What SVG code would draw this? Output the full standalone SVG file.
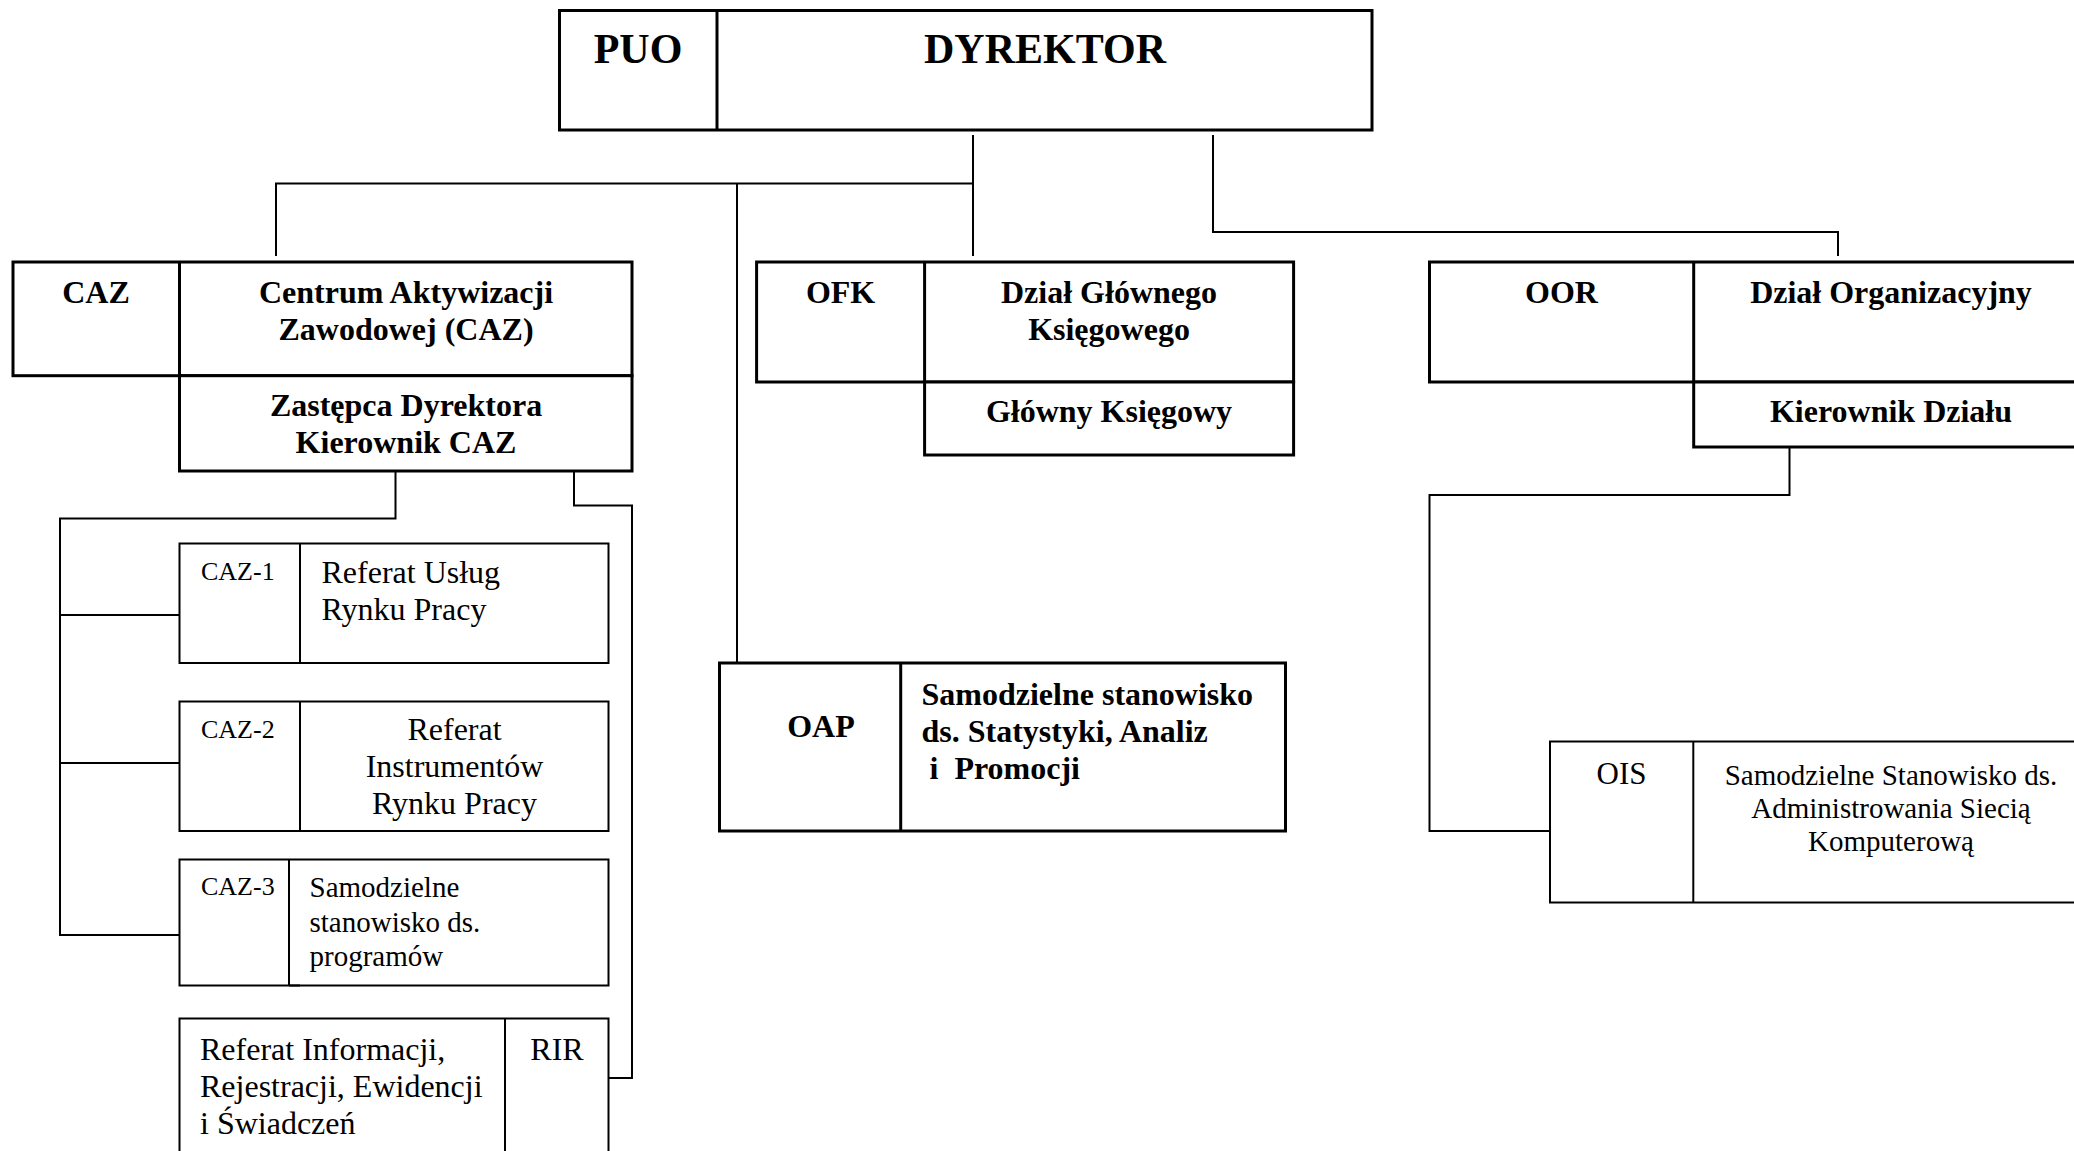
<svg xmlns="http://www.w3.org/2000/svg" width="2074" height="1151" viewBox="0 0 2074 1151">
<style>
.bg{fill:#ffffff}
.bx{fill:#ffffff;stroke:#000;stroke-width:3}
.bt{fill:none;stroke:#000;stroke-width:3}
.sx{fill:#ffffff;stroke:#000;stroke-width:2}
.st{fill:none;stroke:#000;stroke-width:2}
.cn{fill:none;stroke:#000;stroke-width:2}
text{font-family:"Liberation Serif","Times New Roman",serif;fill:#000}
.b{font-weight:bold;font-size:32px}
.h{font-weight:bold;font-size:42px}
.r{font-size:32px}
.s{font-size:26px}
.m{font-size:29px}
.o{font-size:30px}
.c{text-anchor:middle}
</style>
<rect class="bg" x="0" y="0" width="2074" height="1151"/>
<g id="connectors">
<polyline class="cn" points="973,135 973,256"/>
<polyline class="cn" points="973,183.5 276,183.5 276,256"/>
<polyline class="cn" points="737,183.5 737,663"/>
<polyline class="cn" points="1213,135 1213,232 1838,232 1838,256"/>
<polyline class="cn" points="395.5,471 395.5,518.5 60,518.5 60,935 179.5,935"/>
<polyline class="cn" points="60,615 179.5,615"/>
<polyline class="cn" points="60,763 179.5,763"/>
<polyline class="cn" points="574,471 574,505.5 632,505.5 632,1078 608.5,1078"/>
<polyline class="cn" points="1789.5,447 1789.5,495 1429.5,495 1429.5,831 1550,831"/>
</g>
<g id="dyrektor">
<rect class="bx" x="559.5" y="10.5" width="812.5" height="119.5"/>
<line class="bt" x1="717" y1="10.5" x2="717" y2="130"/>
<text class="h c" x="638" y="63">PUO</text>
<text class="h c" x="1045" y="63">DYREKTOR</text>
</g>
<g id="caz">
<rect class="bx" x="13" y="262" width="619" height="113.7"/>
<line class="bt" x1="179.5" y1="262" x2="179.5" y2="375.7"/>
<rect class="bx" x="179.5" y="375.7" width="452.5" height="95.3"/>
<text class="b c" x="96" y="303">CAZ</text>
<text class="b c" x="406" y="303">Centrum Aktywizacji</text>
<text class="b c" x="406" y="340">Zawodowej (CAZ)</text>
<text class="b c" x="406" y="416">Zastępca Dyrektora</text>
<text class="b c" x="406" y="453">Kierownik CAZ</text>
</g>
<g id="ofk">
<rect class="bx" x="756.6" y="262" width="537" height="120"/>
<line class="bt" x1="924.6" y1="262" x2="924.6" y2="382"/>
<rect class="bx" x="924.6" y="382" width="369" height="73"/>
<text class="b c" x="840.6" y="303">OFK</text>
<text class="b c" x="1109" y="303">Dział Głównego</text>
<text class="b c" x="1109" y="340">Księgowego</text>
<text class="b c" x="1109" y="422">Główny Księgowy</text>
</g>
<g id="oor">
<rect class="bx" x="1429.5" y="262" width="660" height="120"/>
<line class="bt" x1="1693.7" y1="262" x2="1693.7" y2="382"/>
<rect class="bx" x="1693.7" y="382" width="396" height="65"/>
<text class="b c" x="1561.5" y="303">OOR</text>
<text class="b c" x="1891" y="303">Dział Organizacyjny</text>
<text class="b c" x="1891" y="422">Kierownik Działu</text>
</g>
<g id="oap">
<rect class="bx" x="719.5" y="663" width="566" height="168"/>
<line class="bt" x1="900.7" y1="663" x2="900.7" y2="831"/>
<text class="b c" x="821" y="737">OAP</text>
<text class="b" x="921.5" y="705">Samodzielne stanowisko</text>
<text class="b" x="921.5" y="742">ds. Statystyki, Analiz</text>
<text class="b" x="921.5" y="779" xml:space="preserve" style="white-space:pre"> i  Promocji</text>
</g>
<g id="ois">
<rect class="sx" x="1550" y="741.5" width="540" height="161"/>
<line class="st" x1="1693.3" y1="741.5" x2="1693.3" y2="902.5"/>
<text class="c" style="font-size:31px" x="1621.5" y="783.5">OIS</text>
<text class="m c" x="1891" y="785">Samodzielne Stanowisko ds.</text>
<text class="m c" x="1891" y="818">Administrowania Siecią</text>
<text class="m c" x="1891" y="851">Komputerową</text>
</g>
<g id="caz1">
<rect class="sx" x="179.5" y="543.5" width="429" height="119.5"/>
<line class="st" x1="300" y1="543.5" x2="300" y2="663"/>
<line class="st" x1="179.5" y1="663" x2="328" y2="663"/>
<text class="s" x="201" y="580">CAZ-1</text>
<text class="r" x="321.5" y="583">Referat Usług</text>
<text class="r" x="321.5" y="620">Rynku Pracy</text>
</g>
<g id="caz2">
<rect class="sx" x="179.5" y="701.5" width="429" height="129.5"/>
<line class="st" x1="300" y1="701.5" x2="300" y2="831"/>
<text class="s" x="201" y="738">CAZ-2</text>
<text class="r c" x="454.5" y="740">Referat</text>
<text class="r c" x="454.5" y="777">Instrumentów</text>
<text class="r c" x="454.5" y="814">Rynku Pracy</text>
</g>
<g id="caz3">
<rect class="sx" x="179.5" y="859.5" width="429" height="126"/>
<line class="st" x1="289" y1="859.5" x2="289" y2="985.5"/>
<line class="st" x1="289" y1="985.5" x2="300" y2="985.5"/>
<text class="s" x="201" y="895">CAZ-3</text>
<text class="m" x="309.5" y="897">Samodzielne</text>
<text class="m" x="309.5" y="931.5">stanowisko ds.</text>
<text class="m" x="309.5" y="966">programów</text>
</g>
<g id="rir">
<rect class="sx" x="179.5" y="1018.5" width="429" height="150"/>
<line class="st" x1="505" y1="1018.5" x2="505" y2="1168.5"/>
<text class="r" x="200" y="1059.5">Referat Informacji,</text>
<text class="r" x="200" y="1096.5">Rejestracji, Ewidencji</text>
<text class="r" x="200" y="1133.5">i Świadczeń</text>
<text class="r c" x="557" y="1059.5">RIR</text>
</g>
</svg>
